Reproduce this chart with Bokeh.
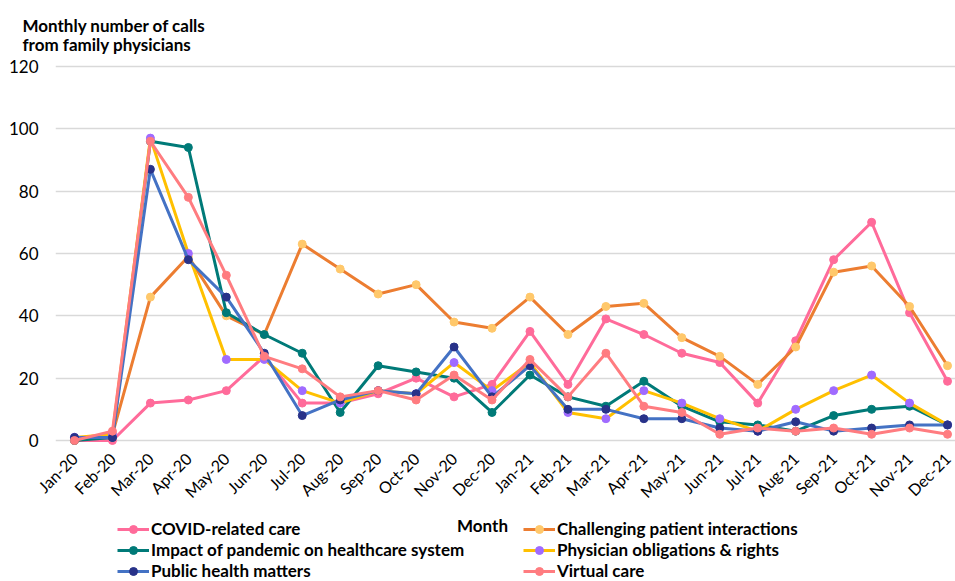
from bokeh.plotting import figure
from bokeh.models import Range1d, FixedTicker, Legend, LegendItem, Label, Title
from bokeh.layouts import column
from bokeh.embed import file_html
from bokeh.resources import INLINE
import math

months = ["Jan-20", "Feb-20", "Mar-20", "Apr-20", "May-20", "Jun-20", "Jul-20", "Aug-20",
          "Sep-20", "Oct-20", "Nov-20", "Dec-20", "Jan-21", "Feb-21", "Mar-21", "Apr-21",
          "May-21", "Jun-21", "Jul-21", "Aug-21", "Sep-21", "Oct-21", "Nov-21", "Dec-21"]

covid = [0, 0, 12, 13, 16, 27, 12, 12, 15, 20, 14, 18, 35, 18, 39, 34, 28, 25, 12, 32, 58, 70, 41, 19]
challenging = [0, 2, 46, 59, 40, 34, 63, 55, 47, 50, 38, 36, 46, 34, 43, 44, 33, 27, 18, 30, 54, 56, 43, 24]
impact = [0, 1, 96, 94, 41, 34, 28, 9, 24, 22, 20, 9, 21, 14, 11, 19, 11, 6, 5, 3, 8, 10, 11, 5]
physician = [1, 2, 97, 60, 26, 26, 16, 12, 16, 15, 25, 16, 25, 9, 7, 16, 12, 7, 3, 10, 16, 21, 12, 5]
public = [1, 1, 87, 58, 46, 28, 8, 13, 16, 15, 30, 14, 24, 10, 10, 7, 7, 4, 3, 6, 3, 4, 5, 5]
virtual = [0, 3, 96, 78, 53, 27, 23, 14, 16, 13, 21, 13, 26, 14, 28, 11, 9, 2, 4, 3, 4, 2, 4, 2]

series_names = ["COVID-related care", "Challenging patient interactions",
                "Impact of pandemic on healthcare system", "Physician obligations & rights",
                "Public health matters", "Virtual care"]
series_values = [covid, challenging, impact, physician, public, virtual]
line_colors = ["#FF6B9A", "#EC7D31", "#007A78", "#FFC000", "#4472C4", "#FF7C80"]
marker_colors = ["#FF6B9A", "#FFC86B", "#007A78", "#A06BFF", "#283289", "#FF7C80"]

y_ticks = [0, 20, 40, 60, 80, 100, 120]

FONT = "Lato"
x = list(range(len(months)))

# ---------------- main chart ----------------
p = figure(width=955, height=515, output_backend="svg", toolbar_location=None,
           x_range=Range1d(-0.5, 23.21), y_range=Range1d(-1.6, 121.9),
           min_border_left=55, min_border_right=0, min_border_top=60, min_border_bottom=70)
p.outline_line_color = None
p.background_fill_color = "white"
p.border_fill_color = "white"

p.title = Title(text="Monthly number of calls\nfrom family physicians", align="left", offset=-33,
                text_font=FONT, text_font_size="17px", text_font_style="bold",
                text_color="#000000", text_line_height=0.93, standoff=10)

p.xgrid.grid_line_color = None
p.ygrid.grid_line_color = "#D9D9D9"
p.ygrid.grid_line_width = 1.5
p.yaxis.ticker = FixedTicker(ticks=y_ticks)
p.xaxis.ticker = FixedTicker(ticks=x)
p.xaxis.major_label_overrides = {i: m for i, m in enumerate(months)}
p.xaxis.major_label_orientation = math.pi / 4
for ax in (p.xaxis, p.yaxis):
    ax.axis_line_color = None
    ax.major_tick_line_color = None
    ax.minor_tick_line_color = None
    ax.major_tick_out = 0
    ax.major_tick_in = 0
    ax.major_label_text_font = FONT
    ax.major_label_text_color = "#000000"
p.yaxis.major_label_text_font_size = "17px"
p.xaxis.major_label_text_font_size = "16px"
p.yaxis.major_label_standoff = 17
p.xaxis.major_label_standoff = 10

for name, vals, lc, mc in zip(series_names, series_values, line_colors, marker_colors):
    p.line(x, vals, line_color=lc, line_width=3)
    p.scatter(x, vals, size=8, fill_color=mc, line_color=mc)

# ---------------- legend strip (same series, drawn outside its visible range) ----------------
q = figure(width=955, height=66, output_backend="svg", toolbar_location=None,
           x_range=Range1d(-1001, -1000), y_range=Range1d(-1001, -1000),
           x_axis_location=None, y_axis_location=None,
           min_border_left=0, min_border_right=0, min_border_top=0, min_border_bottom=0)
q.outline_line_color = None
q.xgrid.visible = False
q.ygrid.visible = False

items = []
for name, vals, lc, mc in zip(series_names, series_values, line_colors, marker_colors):
    r1 = q.line(x, vals, line_color=lc, line_width=3)
    r2 = q.scatter(x, vals, size=8, fill_color=mc, line_color=mc)
    items.append(LegendItem(label=name, renderers=[r1, r2]))

def make_legend(its, loc):
    lg = Legend(items=its, location=loc, orientation="vertical",
                label_text_font=FONT, label_text_font_size="17px",
                label_text_font_style="bold", label_text_color="#000000",
                glyph_width=32, glyph_height=20, label_height=20, label_standoff=2,
                spacing=0, padding=0, margin=0, border_line_color=None,
                background_fill_alpha=0)
    q.add_layout(lg, "center")

make_legend([items[0], items[2], items[4]], (62, 0))
make_legend([items[1], items[3], items[5]], (468, 0))

q.add_layout(Label(x=427, y=56, x_units="screen", y_units="screen", text="Month",
                   text_font=FONT, text_font_size="17px", text_font_style="bold",
                   text_baseline="middle", text_align="center", text_color="#000000"))

layout = column(p, q, spacing=0)
open("out.html", "w").write(file_html(layout, INLINE))
